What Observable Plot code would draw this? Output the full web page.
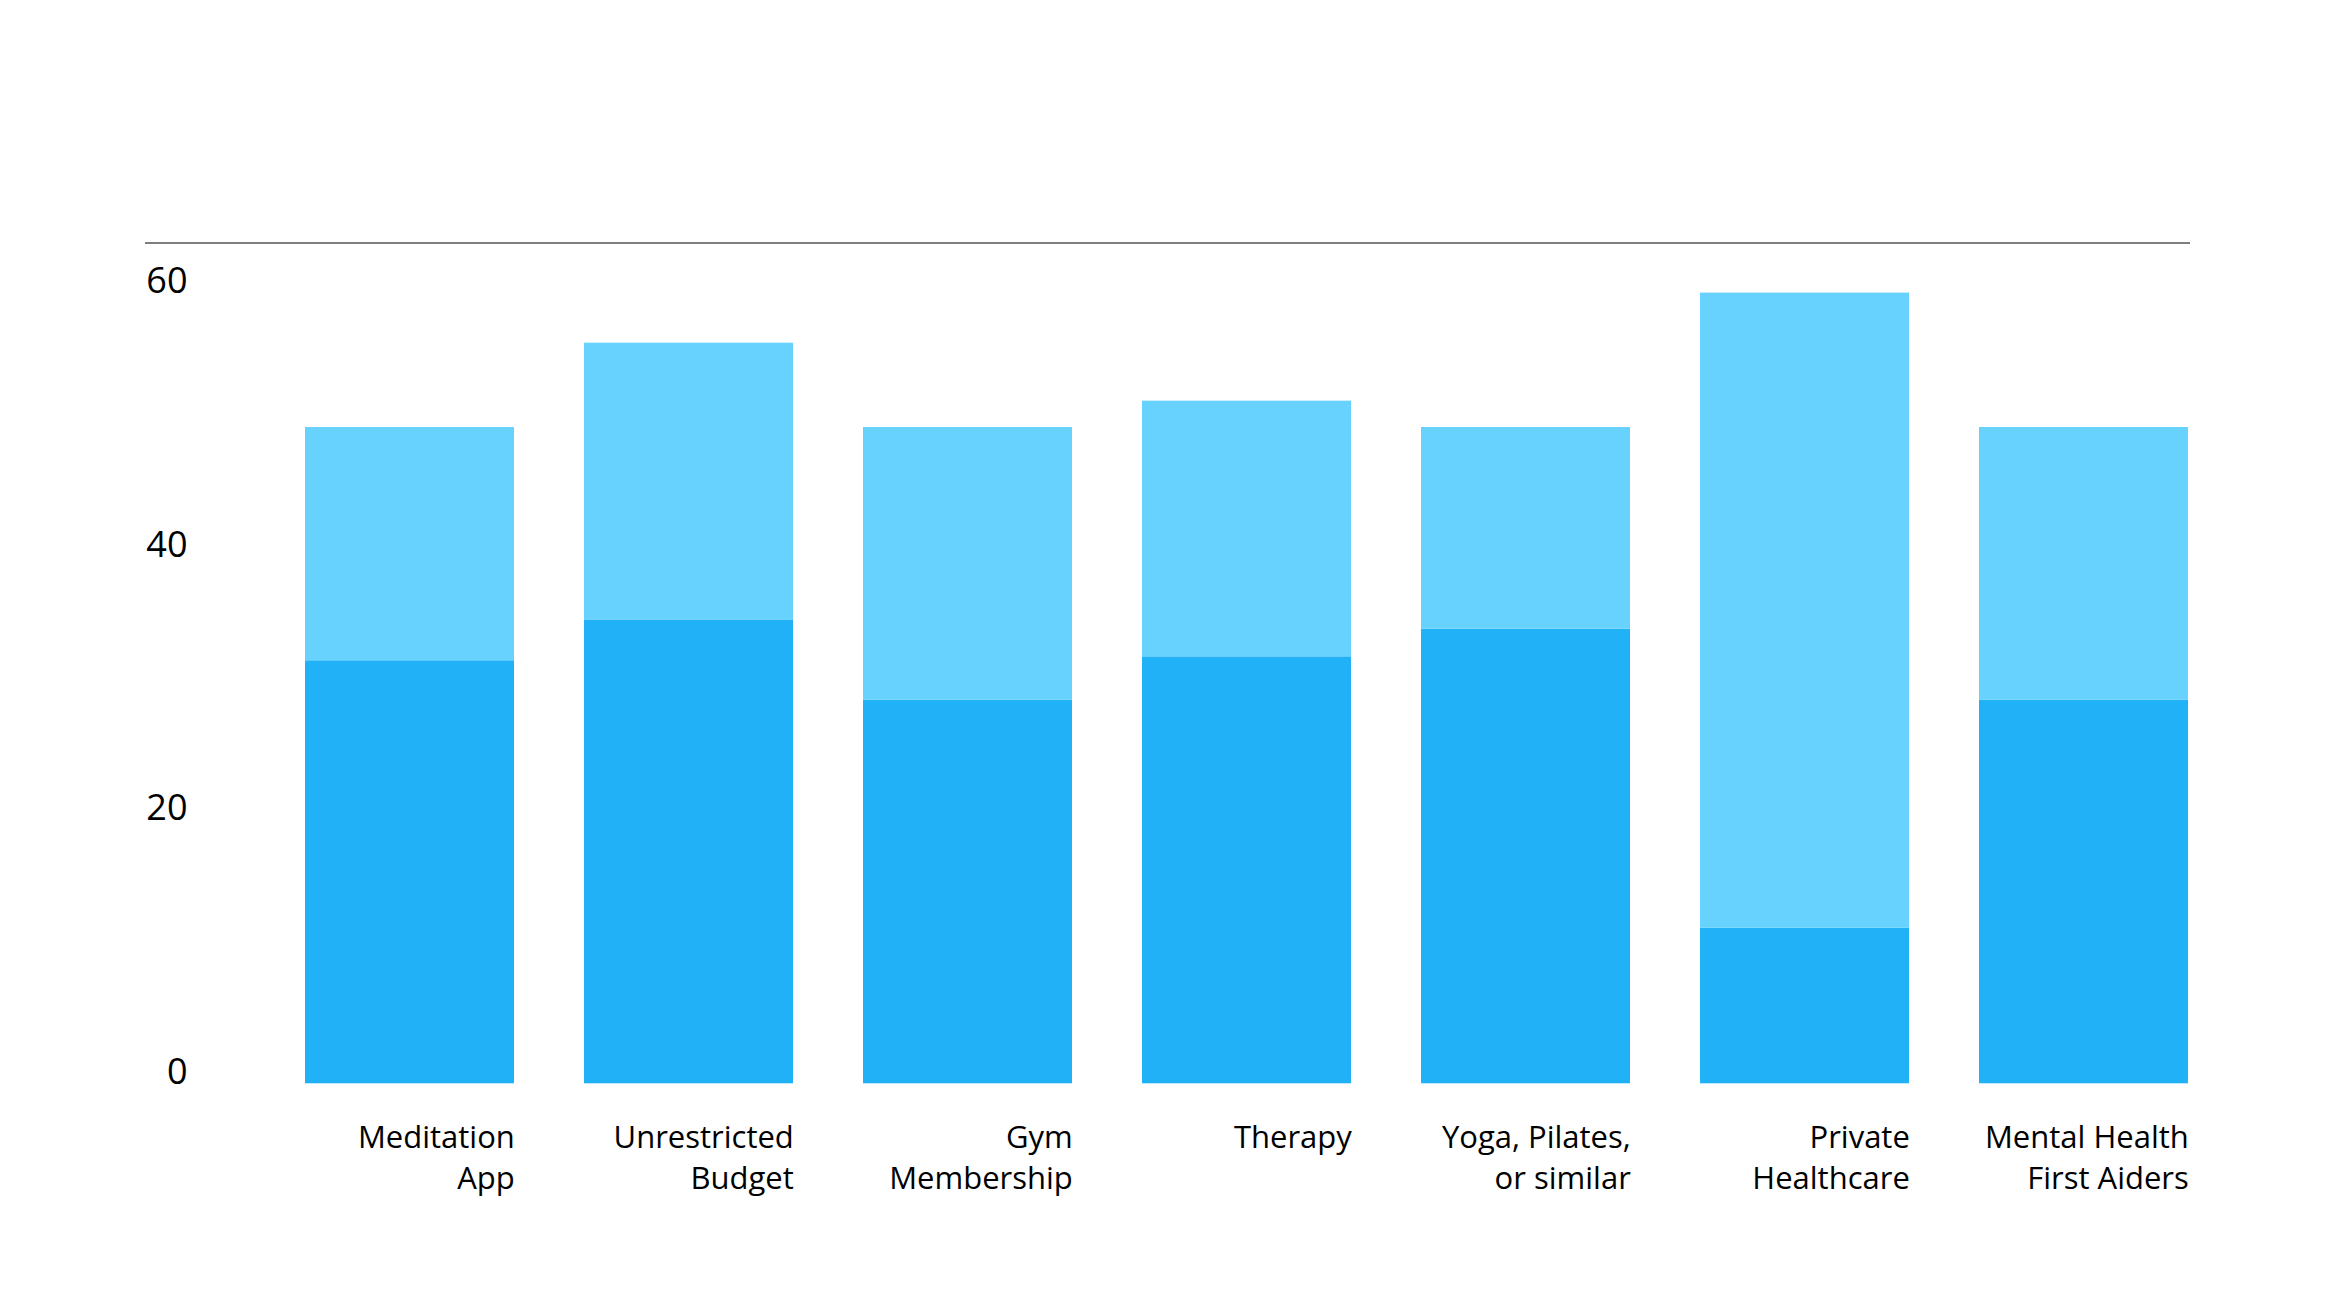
<!DOCTYPE html>
<html>
<head>
<meta charset="utf-8">
<script src="https://cdn.jsdelivr.net/npm/d3@7"></script>
<script src="https://cdn.jsdelivr.net/npm/@observablehq/plot@0.6"></script>
<style>
  html, body { margin: 0; padding: 0; background: #ffffff; }
  #chart svg { display: block; }
</style>
</head>
<body>
<div id="chart"></div>
<script>
const categories = ["Meditation App", "Unrestricted Budget", "Gym Membership", "Therapy", "Yoga, Pilates, or similar", "Private Healthcare", "Mental Health First Aiders"];
const tickLabels = ["Meditation\nApp", "Unrestricted\nBudget", "Gym\nMembership", "Therapy", "Yoga, Pilates,\nor similar", "Private\nHealthcare", "Mental Health\nFirst Aiders"];
const lowerValues = [32.1, 35.2, 29.1, 32.4, 34.5, 11.8, 29.1];
const upperValues = [17.7, 21.0, 20.7, 19.4, 15.3, 48.2, 20.7];
const seriesNames = ["Lower", "Upper"];
const seriesColors = ["#21b1f6", "#68d2fe"];
const yTicks = [0, 20, 40, 60];
const yMax = 63.8;

const rows = [];
categories.forEach((c, i) => {
  rows.push({category: c, series: seriesNames[0], value: lowerValues[i]});
  rows.push({category: c, series: seriesNames[1], value: upperValues[i]});
});
const labelOf = new Map(categories.map((c, i) => [c, tickLabels[i]]));

const W = 2334, H = 1313;
const mL = 145, mR = 144, insetL = 158.3;
const padInner = 0.25;
const rangeW = (W - mR) - (mL + insetL);
const bw = rangeW / (categories.length - padInner) * (1 - padInner);

const chart = Plot.plot({
  width: W,
  height: H,
  marginTop: 242.5,
  marginBottom: 229.7,
  marginLeft: mL,
  marginRight: mR,
  style: {fontFamily: "'Open Sans', sans-serif", background: "#ffffff", color: "#000000"},
  x: {domain: categories, paddingInner: padInner, paddingOuter: 0, align: 0.5, insetLeft: insetL, label: null, axis: null},
  y: {domain: [0, yMax], label: null, axis: null},
  color: {domain: seriesNames, range: seriesColors},
  marks: [
    Plot.barY(rows, {x: "category", y: "value", fill: "series"}),
    Plot.ruleY([yMax], {stroke: "#555555", strokeWidth: 1.4}),
    Plot.axisY({ticks: yTicks, anchor: "left", tickSize: 0, tickPadding: 0, dx: 42, lineAnchor: "bottom", fontSize: 36, label: null}),
    Plot.axisX({anchor: "bottom", tickSize: 0, tickPadding: 34.5, tickFormat: d => labelOf.get(d), textAnchor: "end", dx: bw / 2, lineAnchor: "top", lineHeight: 1.33, fontSize: 31, label: null})
  ]
});
document.getElementById("chart").appendChild(chart);
</script>
</body>
</html>
